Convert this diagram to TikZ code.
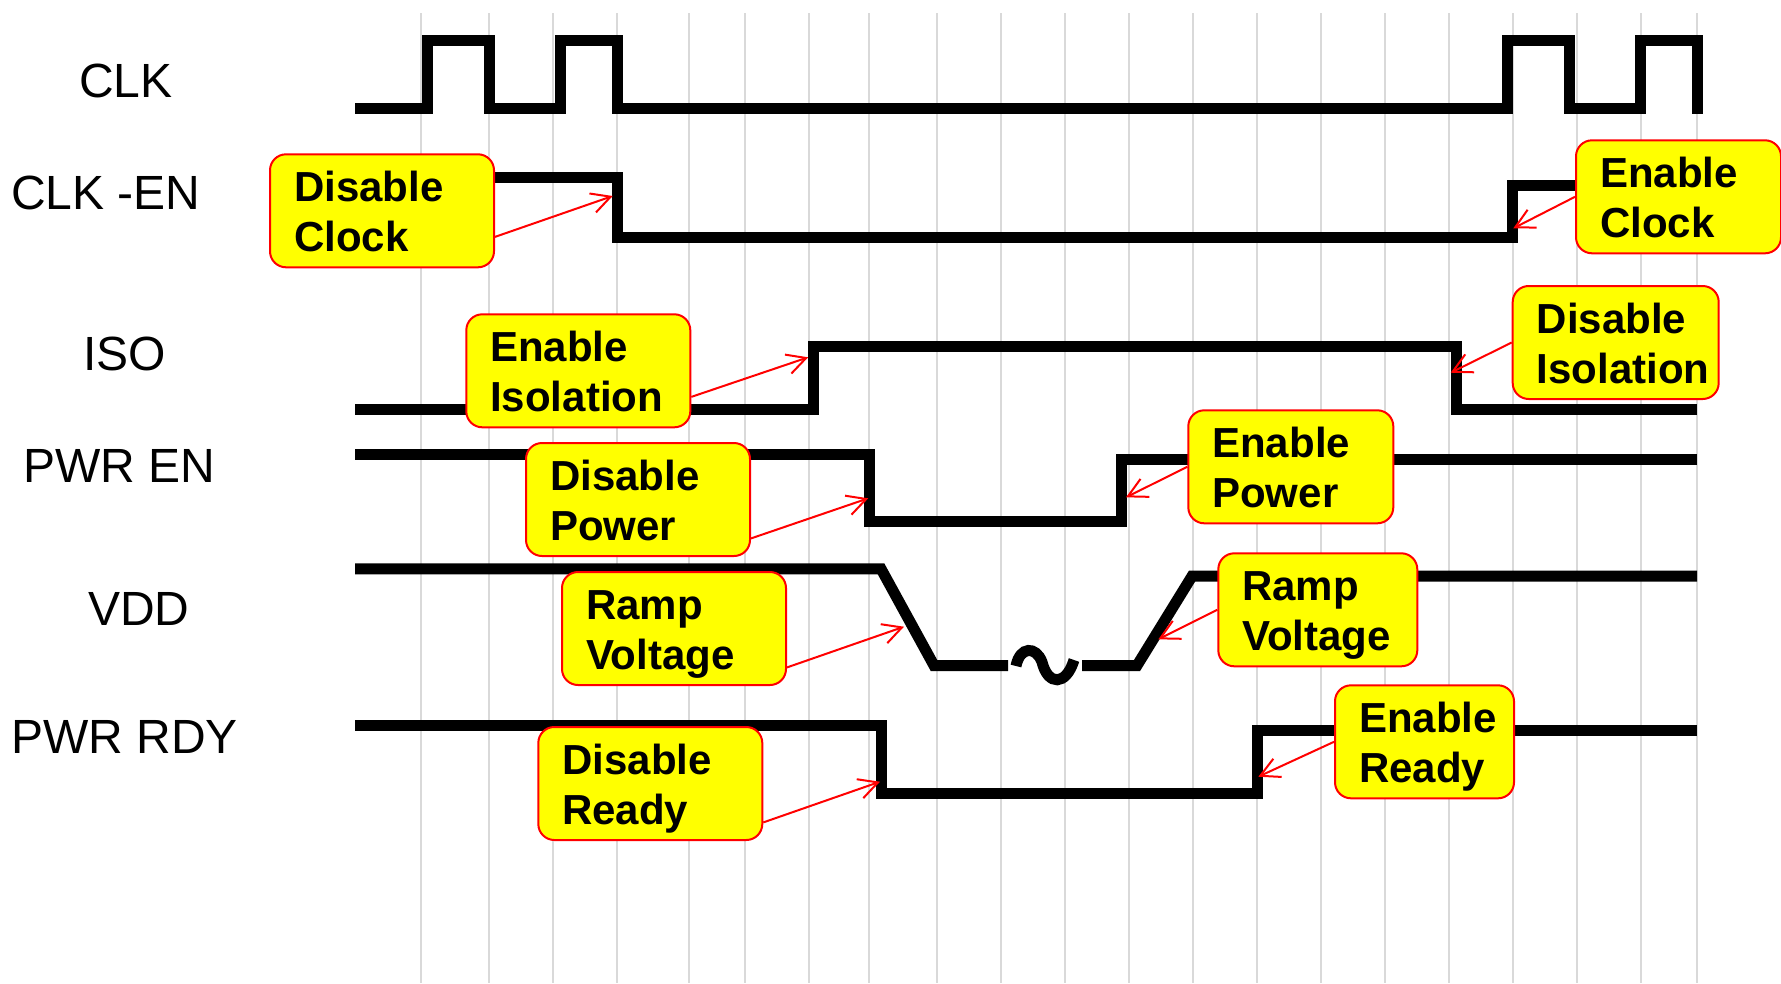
\documentclass[tikz,border=0pt]{standalone}
\usepackage{fontspec}
\setmainfont{Liberation Sans}
\usepackage{xcolor}
\definecolor{cYellow}{HTML}{FFFF00}
\definecolor{cRed}   {HTML}{FF0000}
\definecolor{cGrid}  {HTML}{D9D9D9}
\usepackage{tikz}
\usetikzlibrary{arrows.meta}
\tikzset{
  gline/.style = {draw=cGrid, line width=2pt},
  sig/.style   = {draw=black, line width=11pt, line join=miter},
  call/.style  = {rectangle, draw=cRed, line width=2pt, fill=cYellow,
                  rounded corners=16pt, anchor=north west,
                  inner xsep=24pt, inner ysep=0pt, text width=#1,
                  text height=47pt, text depth=66pt, align=left,
                  font=\fontsize{42}{50}\selectfont\bfseries},
  call/.default = 176pt,
  lbl/.style   = {anchor=base west, inner sep=0pt,
                  font=\fontsize{48}{58}\selectfont},
  arr/.style   = {-{Straight Barb[length=19pt, width=20pt]},
                  draw=cRed, line width=2pt},
}

\begin{document}
\begin{tikzpicture}[x=1pt, y=-1pt]

  \fill[white] (0,0) rectangle (1781,983);
  \useasboundingbox (0,0) rectangle (1781,983);

  % time grid
  \foreach \gx in {420.7, 489, 553.3, 617, 689, 745, 809, 869, 936.7,
                   1001, 1065, 1129.3, 1192.7, 1256.7, 1321, 1385.3,
                   1449.3, 1513, 1577, 1640.7, 1696.7}
    \draw[gline] (\gx,13) -- (\gx,983);

  % signal names
  \node[lbl] (nclk) at (79,97.3)   {CLK};
  \node[lbl] (nen)  at (11,209.3)  {CLK -EN};
  \node[lbl] (niso) at (83,370.7)  {ISO};
  \node[lbl] (npen) at (23,482.7)  {PWR EN};
  \node[lbl] (nvdd) at (88,625)    {VDD};
  \node[lbl] (nrdy) at (11,753.3)  {PWR RDY};

  % waveforms
  \draw[sig] (355,108.5) -| (427,40.7) -| (489,108.5) -| (560,40.7)
             -| (617,108.5) -| (1507,40.7) -| (1569,108.5)
             -| (1640,40.7) -| (1697,114);
  \draw[sig] (450,177.2) -| (617.2,237) -| (1512.8,185.3) -- (1600,185.3);
  \draw[sig] (355,409.4) -| (813.8,346) -| (1456.7,409.4) -- (1697,409.4);
  \draw[sig] (355,454.5) -| (869,521.5) -| (1121.3,459.5) -- (1697,459.5);
  \draw[sig] (355,568.8) -- (881,568.8) -- (934,665.5) -- (1008,665.5);
  \draw[sig] (1016,666) .. controls (1020,646) and (1036,646) .. (1042,662)
             .. controls (1048,686) and (1066,686) .. (1074,660);
  \draw[sig] (1082,665.5) -- (1137,665.5) -- (1192,576.2) -- (1697,576.2);
  \draw[sig] (355,725.5) -| (881.7,793.8) -| (1257.2,730.5) -- (1697,730.5);

  % callouts
  \node[call]       (dclk) at (269,153.3)    {Disable\\Clock};
  \node[call=157pt] (eclk) at (1575,139.3)   {Enable\\Clock};
  \node[call]       (eiso) at (465.3,313.3)  {Enable\\Isolation};
  \node[call=158pt] (diso) at (1511.7,285)   {Disable\\Isolation};
  \node[call]       (dpwr) at (525,442)      {Disable\\Power};
  \node[call=157pt] (epwr) at (1187.3,409.3) {Enable\\Power};
  \node[call]       (rdn)  at (561,571)      {Ramp\\Voltage};
  \node[call=151pt] (rup)  at (1217.3,552.3) {Ramp\\Voltage};
  \node[call]       (drdy) at (537.3,726)    {Disable\\Ready};
  \node[call=131pt] (erdy) at (1334,684.3)   {Enable\\Ready};

  \coordinate (tdclk) at (612.7,196);
  \coordinate (teclk) at (1513.3,228.3);
  \coordinate (teiso) at (808.2,357.3);
  \coordinate (tdiso) at (1450.7,372.7);
  \coordinate (tdpwr) at (868.3,498.3);
  \coordinate (tepwr) at (1126,497.3);
  \coordinate (trdn)  at (904,626.7);
  \coordinate (trup)  at (1158.3,639.3);
  \coordinate (tdrdy) at (880,781.7);
  \coordinate (terdy) at (1258.3,776.7);

  \draw[arr] (dclk.-13.5) -- (tdclk);
  \draw[arr] (eclk.west)  -- (teclk);
  \draw[arr] (eiso.-13.5) -- (teiso);
  \draw[arr] (diso.west)  -- (tdiso);
  \draw[arr] (dpwr.-19.5) -- (tdpwr);
  \draw[arr] (epwr.west)  -- (tepwr);
  \draw[arr] (rdn.-19.5)  -- (trdn);
  \draw[arr] (rup.west)   -- (trup);
  \draw[arr] (drdy.-19.5) -- (tdrdy);
  \draw[arr] (erdy.west)  -- (terdy);

\end{tikzpicture}
\end{document}
